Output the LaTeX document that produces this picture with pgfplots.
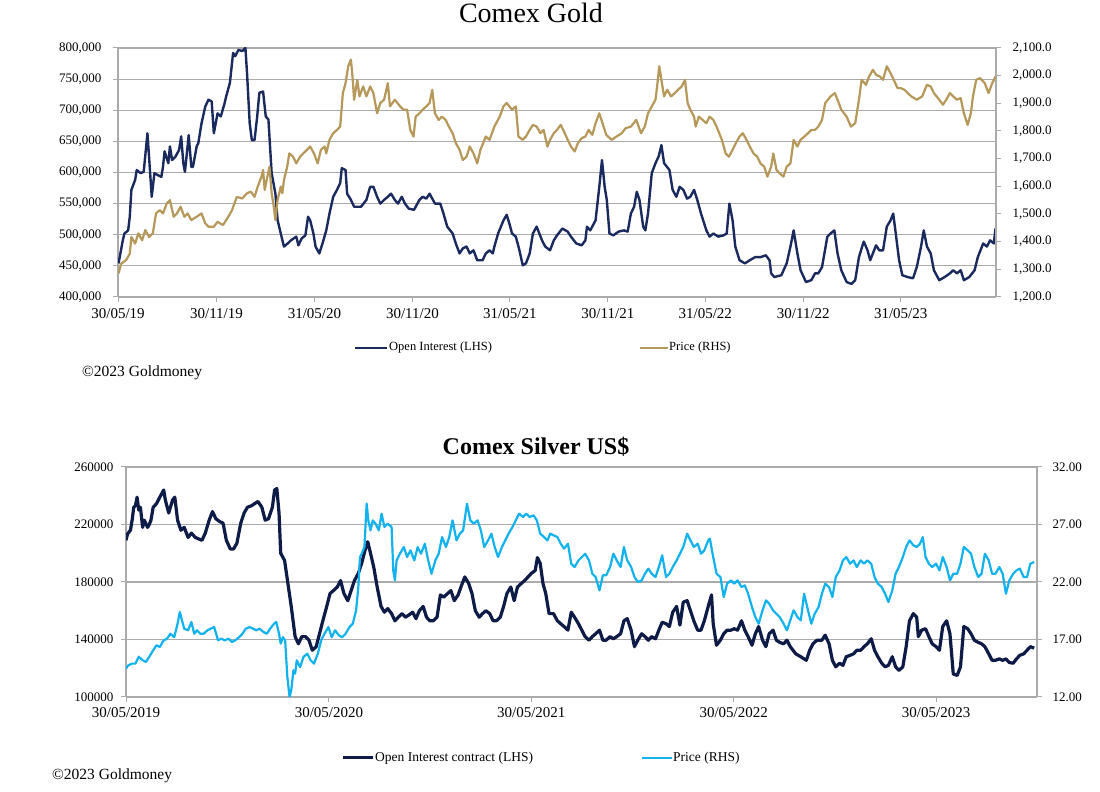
\documentclass[border=0pt]{standalone}
\usepackage{fontspec}
\setmainfont{Liberation Serif}
\usepackage{pgfplots}
\pgfplotsset{compat=1.18}
\definecolor{goldoi}{HTML}{1B2A5E}
\definecolor{goldpx}{HTML}{B5985A}
\definecolor{silvoi}{HTML}{0E1B47}
\definecolor{silvpx}{HTML}{12B2EE}
\definecolor{gridc}{HTML}{ABABAB}
\pgfplotsset{
  base/.style={scale only axis, xmin=0,
    /pgf/number format/assume math mode=true,
    tick align=outside, major tick length=5pt,
    every tick/.style={draw=gridc, line width=1pt},
    axis line style={draw=gridc, line width=1.2pt},
    major grid style={draw=gridc, line width=1.2pt},
    ticklabel style={text=black},
    every axis plot/.append style={line join=round, no markers}},
}
\begin{document}
\begin{tikzpicture}
\path[use as bounding box] (0,0) rectangle (1100pt,792pt);
\fill[white] (0,0) rectangle (1100pt,792pt);

% ---------------- Comex Gold ----------------
\begin{axis}[base, at={(118pt,495pt)}, anchor=south west, width=878pt, height=249pt,
  xmax=1640, ymin=400000, ymax=800000,
  ytick={400000,450000,500000,550000,600000,650000,700000,750000,800000},
  scaled y ticks=false, ymajorgrids,
  yticklabel style={xshift=-8pt, font=\fontsize{13}{13}\selectfont, /pgf/number format/.cd, fixed, 1000 sep={,}},
  xtick={0,184,367,550,732,915,1097,1280,1462},
  xticklabels={30/05/19,30/11/19,31/05/20,30/11/20,31/05/21,30/11/21,31/05/22,30/11/22,31/05/23},
  xticklabel style={yshift=-3pt, font=\fontsize{15}{15}\selectfont},
  axis x line*=bottom, axis y line*=left]
\addplot[goldoi, line width=2.4pt] coordinates {
(1,454000)(9,491000)(12,502000)(19,507000)(22,529000)(25,572000)(32,588000)(35,604000)(42,599000)(48,601000)(55,663000)(58,625000)(63,561000)(68,599000)(74,596000)(81,593000)(84,609000)(87,634000)(94,615000)(97,642000)(101,620000)(107,625000)(114,636000)(118,658000)(122,615000)(125,601000)(130,642000)(132,660000)(137,609000)(140,609000)(147,642000)(150,647000)(156,679000)(163,706000)(169,717000)(175,714000)(179,663000)(186,695000)(192,690000)(199,711000)(202,722000)(209,744000)(215,792000)(219,787000)(225,797000)(232,795000)(238,800000)(241,760000)(246,679000)(250,652000)(255,652000)(260,690000)(264,728000)(271,730000)(276,690000)(281,685000)(287,599000)(294,566000)(298,524000)(304,502000)(310,481000)(317,486000)(323,491000)(333,497000)(337,483000)(343,494000)(350,499000)(355,529000)(359,523000)(365,502000)(369,481000)(376,470000)(382,486000)(389,507000)(395,534000)(402,561000)(409,572000)(415,583000)(418,607000)(425,604000)(428,566000)(435,556000)(441,545000)(454,545000)(464,556000)(471,577000)(477,577000)(484,561000)(490,550000)(497,556000)(504,561000)(510,566000)(517,556000)(523,550000)(530,561000)(536,550000)(543,542000)(553,540000)(563,556000)(569,561000)(576,558000)(582,566000)(592,550000)(602,550000)(608,534000)(615,513000)(625,502000)(631,486000)(638,470000)(644,478000)(651,481000)(657,470000)(664,475000)(671,459000)(681,459000)(687,470000)(694,475000)(700,470000)(703,481000)(710,502000)(720,523000)(726,532000)(731,518000)(736,502000)(743,497000)(749,478000)(756,451000)(762,454000)(769,470000)(775,502000)(782,513000)(787,502000)(792,491000)(798,481000)(807,475000)
(814,491000)(820,499000)(830,510000)(840,505000)(846,497000)(856,486000)(866,483000)(873,491000)(876,513000)(882,507000)(892,523000)(899,577000)(904,620000)(909,577000)(913,556000)(918,502000)(925,499000)(935,505000)(945,507000)(952,505000)(958,534000)(964,545000)(969,569000)(974,556000)(981,513000)(985,507000)(990,534000)(997,599000)(1004,615000)(1010,626000)(1015,644000)(1020,615000)(1030,604000)(1036,572000)(1043,561000)(1049,577000)(1056,572000)(1063,558000)(1069,561000)(1076,572000)(1082,556000)(1089,534000)(1099,507000)(1105,497000)(1112,502000)(1121,497000)(1131,499000)(1137,502000)(1142,550000)(1148,523000)(1153,481000)(1161,459000)(1171,454000)(1180,459000)(1190,464000)(1200,464000)(1210,467000)(1217,459000)(1220,438000)(1226,432000)(1239,435000)(1249,454000)(1256,481000)(1262,507000)(1269,470000)(1275,443000)(1285,424000)(1295,427000)(1302,438000)(1308,438000)(1315,448000)(1325,497000)(1331,502000)(1338,507000)(1344,470000)(1351,443000)(1361,424000)(1370,421000)(1377,427000)(1384,464000)(1390,481000)(1393,489000)(1400,475000)(1405,459000)(1410,470000)(1416,483000)(1422,475000)(1429,475000)(1436,513000)(1443,523000)(1448,534000)(1452,507000)(1459,459000)(1465,435000)(1475,432000)(1485,430000)(1492,448000)(1500,481000)(1505,507000)(1511,481000)(1518,470000)(1524,443000)(1534,427000)(1544,432000)(1554,438000)(1560,443000)(1567,438000)(1574,443000)(1580,427000)(1590,432000)(1600,443000)(1606,464000)(1616,486000)(1623,481000)(1629,491000)(1636,486000)(1639,510000)
};
\end{axis}
\begin{axis}[base, at={(118pt,495pt)}, anchor=south west, width=878pt, height=249pt,
  xmax=1640, ymin=1200, ymax=2100,
  ytick={1200,1300,1400,1500,1600,1700,1800,1900,2000,2100},
  yticklabel style={xshift=8pt, font=\fontsize{13}{13}\selectfont, /pgf/number format/.cd, fixed, fixed zerofill, precision=1, 1000 sep={,}},
  axis x line=none, axis y line*=right]
\addplot[goldpx, line width=2.2pt] coordinates {
(1,1285)(6,1321)(15,1333)(22,1357)(25,1417)(32,1393)(38,1430)(45,1405)(51,1442)(58,1417)(65,1430)(71,1502)(78,1514)(84,1502)(91,1538)(97,1550)(104,1490)(110,1502)(117,1526)(124,1490)(130,1502)(137,1478)(147,1490)(156,1502)(163,1466)(169,1454)(179,1454)(186,1472)(196,1460)(206,1490)(213,1514)(222,1562)(232,1556)(241,1575)(248,1581)(255,1562)(261,1599)(268,1635)(271,1659)(274,1587)(279,1635)(283,1671)(287,1575)(291,1526)(294,1478)(298,1550)(304,1599)(307,1575)(310,1623)(316,1671)(320,1719)(327,1707)(333,1683)(340,1707)(346,1719)(353,1732)(359,1744)(366,1719)(373,1683)(379,1732)(386,1744)(389,1719)(395,1768)(402,1792)(409,1804)(415,1816)(420,1937)(425,1973)(430,2034)(435,2058)(438,1997)(441,1913)(447,1985)(451,1925)(458,1961)(464,1925)(471,1961)(477,1937)(484,1864)(490,1901)(497,1913)(504,1973)(508,1889)(517,1913)(527,1889)(533,1877)(540,1877)(546,1804)(552,1780)(556,1852)(563,1864)(569,1877)(576,1889)(582,1901)(587,1949)(592,1864)(599,1840)(605,1852)(612,1840)(618,1816)(625,1792)(631,1756)(638,1732)(644,1695)(651,1707)(657,1744)(664,1719)(671,1683)(677,1732)(687,1780)(694,1768)(703,1816)(713,1852)(720,1889)(726,1901)(736,1877)(743,1889)(748,1780)(756,1768)(762,1780)(769,1804)(775,1822)(782,1816)(789,1792)(795,1804)(802,1744)(807,1768)
(814,1792)(820,1804)(827,1822)(833,1798)(840,1768)(846,1744)(853,1726)(859,1756)(866,1774)(873,1780)(879,1804)(886,1786)(892,1828)(899,1864)(905,1828)(912,1786)(922,1768)(931,1780)(941,1792)(948,1810)(958,1816)(968,1840)(977,1792)(984,1816)(990,1864)(997,1889)(1004,1913)(1007,1961)(1011,2034)(1017,1961)(1020,1925)(1026,1949)(1033,1925)(1040,1937)(1046,1949)(1053,1961)(1059,1985)(1064,1901)(1069,1877)(1076,1852)(1079,1816)(1085,1852)(1092,1840)(1099,1828)(1105,1852)(1112,1840)(1118,1816)(1128,1768)(1135,1719)(1141,1707)(1148,1732)(1154,1756)(1161,1780)(1167,1792)(1174,1768)(1180,1744)(1187,1719)(1194,1707)(1200,1683)(1207,1671)(1213,1635)(1220,1671)(1224,1719)(1230,1659)(1236,1647)(1243,1635)(1249,1671)(1256,1683)(1262,1768)(1269,1744)(1275,1768)(1282,1780)(1289,1792)(1295,1804)(1302,1804)(1308,1816)(1315,1840)(1321,1901)(1331,1925)(1339,1937)(1344,1913)(1351,1877)(1361,1852)(1369,1816)(1377,1828)(1384,1913)(1389,1985)(1397,1967)(1403,1997)(1410,2021)(1416,2003)(1423,1997)(1429,1985)(1436,2034)(1443,2009)(1449,1985)(1456,1955)(1462,1955)(1469,1949)(1475,1937)(1482,1925)(1492,1913)(1502,1925)(1511,1967)(1518,1961)(1524,1937)(1534,1913)(1541,1895)(1547,1913)(1554,1937)(1560,1925)(1567,1913)(1574,1919)(1580,1864)(1587,1822)(1593,1864)(1597,1925)(1603,1985)(1610,1991)(1619,1973)(1626,1937)(1633,1973)(1639,1997)
};
\end{axis}

% ---------------- Comex Silver ----------------
\begin{axis}[base, at={(126pt,95pt)}, anchor=south west, width=911pt, height=230pt,
  xmax=1643, ymin=100000, ymax=260000,
  ytick={100000,140000,180000,220000,260000},
  scaled y ticks=false, ymajorgrids,
  yticklabel style={xshift=-4pt, font=\fontsize{13}{13}\selectfont, /pgf/number format/.cd, fixed, 1000 sep={}},
  xtick={0,366,731,1096,1461},
  xticklabels={30/05/2019,30/05/2020,30/05/2021,30/05/2022,30/05/2023},
  xticklabel style={yshift=-2pt, font=\fontsize{15}{15}\selectfont},
  axis x line*=bottom, axis y line*=left]
\addplot[silvoi, line width=3.2pt] coordinates {
(0,209000)(3,213600)(8,216000)(11,222900)(14,232000)(17,233000)(20,239000)(23,230000)(26,232000)(30,218000)(33,223000)(39,218000)(42,220000)(45,223000)(49,232000)(55,234500)(61,239000)(68,244000)(71,237000)(77,228000)(84,237000)(88,239000)(93,223000)(99,216000)(105,218000)(112,211000)(118,214000)(125,211000)(131,210000)(137,209000)(143,214000)(150,223000)(156,229000)(162,224000)(169,222000)(175,221000)(181,209000)(188,203000)(194,203000)(200,207000)(207,221000)(213,228000)(219,232000)(226,233000)(232,234500)(238,236000)(245,232000)(251,223000)(257,224000)(264,232000)(268,244000)(272,245000)(276,228000)(279,200000)(286,195000)(292,179000)(298,163000)(305,142000)(311,137000)(317,142000)(324,142000)(330,139500)(336,132500)(343,135000)(349,144000)(355,153000)(362,163000)(368,172000)(374,174000)(381,176500)(387,181000)(393,172000)(400,167000)(406,174000)(412,181000)(419,186000)(425,193000)(431,202000)(436,208000)(441,200000)(447,190000)(453,176500)(460,163000)(466,159000)(472,161500)(479,158000)(485,153000)(491,155500)(498,158000)(504,155500)(510,157000)(517,159000)(523,154500)(529,160000)(536,163000)(542,155500)(548,153000)(554,153000)(561,155500)(567,171000)(573,169500)(580,172000)(586,174000)(592,167000)(599,171000)(605,177500)(611,183500)(618,179000)(624,172000)(630,160000)(637,155500)(643,158000)(649,160000)(656,158000)(662,153000)(668,153000)(675,155500)(681,163000)(687,172000)(694,176500)(700,167000)(706,176500)(713,179000)(719,181000)(725,183500)(731,186000)(738,188000)(742,197000)(747,193000)(752,179000)(757,172000)(763,158000)
(771,158000)(778,153000)(784,151000)(790,149000)(797,146500)(803,159000)(809,155500)(816,151000)(822,146500)(828,142000)(835,139500)(841,142000)(847,144000)(854,146500)(860,139500)(866,139500)(873,142000)(879,140500)(885,142000)(892,144000)(898,153000)(904,154500)(911,146500)(917,135000)(923,139500)(930,144000)(936,142000)(942,139500)(948,142000)(955,140500)(961,146500)(967,152000)(974,151000)(980,149000)(986,159000)(993,163000)(999,150000)(1005,166000)(1012,167000)(1018,160000)(1024,153000)(1031,146500)(1037,146500)(1043,153000)(1050,163000)(1056,171000)(1059,151000)(1065,136000)(1072,139500)(1078,144000)(1084,146500)(1091,146500)(1097,147500)(1103,146500)(1110,153000)(1116,146500)(1122,142000)(1129,136000)(1135,144000)(1141,149000)(1148,139500)(1154,135000)(1160,144000)(1167,146500)(1173,139500)(1179,138000)(1186,137000)(1192,139500)(1198,135000)(1208,130000)(1217,128000)(1227,125500)(1233,132500)(1239,137000)(1246,139500)(1255,139500)(1261,143000)(1268,137000)(1274,125500)(1280,121000)(1287,123500)(1293,122000)(1299,128000)(1306,129000)(1312,130000)(1318,132500)(1325,132500)(1331,135000)(1337,137000)(1344,140500)(1350,132500)(1356,128000)(1363,123500)(1369,121000)(1375,122000)(1382,128000)(1388,121000)(1394,118500)(1401,121000)(1407,135000)(1413,153000)(1420,158000)(1426,155500)(1429,142000)(1435,146500)(1442,147500)(1448,142000)(1454,137000)(1461,135000)(1467,132500)(1473,149000)(1480,153000)(1486,144000)(1492,116000)(1499,115000)(1505,121000)(1511,149000)(1518,147500)(1524,144000)(1530,139500)(1537,138000)(1543,137000)(1549,135000)(1556,130000)(1562,125500)(1568,125500)(1575,126500)(1581,125500)(1587,126500)(1593,124000)(1600,123500)(1606,126500)(1612,129000)(1619,130000)(1625,132500)(1631,135000)(1638,134000)
};
\end{axis}
\begin{axis}[base, at={(126pt,95pt)}, anchor=south west, width=911pt, height=230pt,
  xmax=1643, ymin=12, ymax=32,
  ytick={12,17,22,27,32},
  yticklabel style={xshift=7pt, font=\fontsize{13}{13}\selectfont, /pgf/number format/.cd, fixed, fixed zerofill, precision=2},
  axis x line=none, axis y line*=right]
\addplot[silvpx, line width=2.2pt] coordinates {
(0,14.46)(4,14.75)(11,14.9)(17,14.9)(23,15.5)(30,15.2)(36,15.04)(42,15.5)(49,16.06)(55,16.5)(61,16.35)(68,16.93)(74,17.07)(80,17.5)(87,17.2)(93,18.37)(97,19.39)(101,18.66)(105,17.94)(112,17.8)(118,18.52)(123,17.5)(128,17.8)(134,17.5)(140,17.5)(147,17.8)(153,17.94)(159,18.08)(166,16.93)(172,17.07)(178,16.93)(185,17.07)(191,16.78)(197,16.93)(204,17.2)(210,17.5)(216,17.94)(223,18.08)(229,17.94)(235,17.8)(241,17.94)(248,17.65)(254,17.5)(260,17.94)(267,18.37)(271,18.52)(276,17.5)(279,16.64)(283,17.2)(287,16.93)(291,13.74)(295,12.0)(298,12.58)(302,14.32)(305,14.03)(308,15.19)(314,14.6)(320,15.48)(327,15.77)(333,15.19)(339,14.9)(346,15.77)(352,16.93)(358,17.5)(365,18.08)(371,17.2)(377,17.8)(384,17.36)(390,17.2)(396,17.5)(403,18.08)(409,18.37)(415,19.53)(419,21.56)(422,24.17)(425,24.46)(430,25.04)(434,28.81)(437,27.36)(441,26.49)(445,27.36)(450,27.07)(456,26.49)(461,27.94)(466,26.78)(472,27.07)(479,26.78)(482,23.01)(485,22.14)(488,23.88)(494,24.46)(501,25.04)(507,24.17)(513,24.75)(520,23.88)(526,25.04)(532,24.46)(539,25.33)(545,23.88)(551,22.72)(558,23.88)(564,24.46)(570,25.91)(577,25.04)(583,25.91)(589,27.36)(596,25.62)(602,26.2)(608,26.49)(615,28.81)(621,27.36)(627,27.07)(634,27.36)(640,26.49)(646,25.04)(653,25.62)(659,26.2)(665,25.04)(671,24.17)(678,25.04)(684,25.62)(690,26.2)(697,26.78)(703,27.36)(709,27.94)(716,27.65)(722,27.94)(728,27.65)(735,27.8)(741,27.36)(747,26.2)(754,25.91)(760,25.62)
(765,26.2)(771,26.06)(778,25.91)(784,25.33)(790,24.9)(797,25.33)(803,23.59)(809,23.3)(816,23.88)(822,24.17)(828,24.46)(835,23.88)(841,22.72)(847,22.43)(854,21.27)(860,22.58)(866,22.58)(873,23.3)(879,24.46)(885,23.88)(892,23.3)(898,25.04)(904,23.88)(911,23.3)(917,22.43)(923,22.0)(930,22.14)(936,22.72)(942,23.16)(948,22.72)(955,22.43)(961,23.3)(967,24.32)(974,22.43)(980,22.72)(986,23.3)(993,23.88)(999,24.46)(1005,25.04)(1012,26.2)(1018,25.62)(1024,25.04)(1031,25.33)(1037,24.46)(1043,24.75)(1050,25.62)(1053,25.77)(1059,24.17)(1065,22.72)(1072,22.43)(1078,20.69)(1084,21.85)(1091,22.14)(1097,21.85)(1103,22.14)(1110,21.56)(1116,21.71)(1122,20.98)(1129,19.82)(1135,18.95)(1141,18.37)(1148,19.53)(1154,20.4)(1160,20.11)(1167,19.53)(1173,19.24)(1179,18.95)(1186,18.37)(1192,17.8)(1198,18.66)(1204,19.53)(1211,18.95)(1217,18.66)(1223,20.98)(1230,19.53)(1236,18.37)(1242,19.24)(1249,19.82)(1255,20.98)(1261,21.85)(1268,21.56)(1274,20.69)(1280,22.43)(1287,23.01)(1293,23.88)(1299,24.17)(1306,23.59)(1312,23.88)(1318,23.3)(1325,23.88)(1331,23.59)(1337,23.88)(1344,23.59)(1350,22.43)(1356,21.85)(1363,21.56)(1369,20.98)(1375,20.26)(1382,21.27)(1388,22.72)(1394,23.3)(1401,24.17)(1407,25.04)(1413,25.62)(1420,25.19)(1426,25.04)(1432,25.33)(1437,25.91)(1442,24.17)(1448,23.59)(1454,23.3)(1461,23.59)(1467,23.01)(1473,24.17)(1480,23.3)(1486,22.14)(1492,22.72)(1499,22.72)(1505,23.59)(1511,25.04)(1518,24.75)(1524,24.46)(1530,23.3)(1537,22.43)(1543,22.72)(1549,24.46)(1556,23.88)(1562,22.72)(1568,22.72)(1575,23.3)(1581,22.72)(1587,20.98)(1593,22.14)(1600,22.72)(1606,23.01)(1612,23.16)(1619,22.43)(1625,22.43)(1631,23.59)(1638,23.74)
};
\end{axis}

% titles
\node[anchor=base, inner sep=0, font=\fontsize{28}{28}\selectfont] at (531pt,769pt) {Comex Gold};
\node[anchor=base, inner sep=0, font=\fontsize{24}{24}\selectfont\bfseries] at (536pt,337pt) {Comex Silver US\$};

% legends (top)
\draw[goldoi, line width=2.4pt] (355pt,444pt) -- (387pt,444pt);
\node[anchor=west, inner sep=0, font=\fontsize{12.5}{12.5}\selectfont] at (389pt,444pt) {Open Interest (LHS)};
\draw[goldpx, line width=2.4pt] (640pt,444pt) -- (668pt,444pt);
\node[anchor=west, inner sep=0, font=\fontsize{12.5}{12.5}\selectfont] at (669pt,444pt) {Price (RHS)};
\node[anchor=west, inner sep=0, font=\fontsize{15.5}{15.5}\selectfont] at (82pt,419pt) {©2023 Goldmoney};

% legends (bottom)
\draw[silvoi, line width=3pt] (343pt,34pt) -- (373pt,34pt);
\node[anchor=west, inner sep=0, font=\fontsize{13.5}{13.5}\selectfont] at (375pt,34pt) {Open Interest contract (LHS)};
\draw[silvpx, line width=2.4pt] (642pt,34pt) -- (672pt,34pt);
\node[anchor=west, inner sep=0, font=\fontsize{13.5}{13.5}\selectfont] at (673pt,34pt) {Price (RHS)};
\node[anchor=west, inner sep=0, font=\fontsize{15.5}{15.5}\selectfont] at (52pt,16pt) {©2023 Goldmoney};
\end{tikzpicture}
\end{document}
